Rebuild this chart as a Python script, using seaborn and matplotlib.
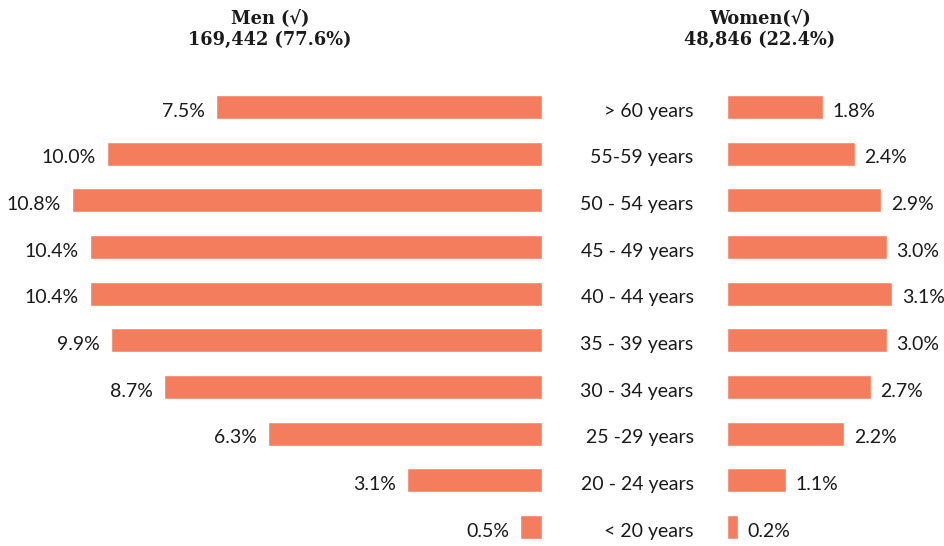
import matplotlib
matplotlib.use("Agg")
import matplotlib.pyplot as plt
import matplotlib.transforms as mtransforms
import seaborn as sns
import pandas as pd

age_groups = ["> 60 years", "55-59 years", "50 - 54 years", "45 - 49 years", "40 - 44 years",
              "35 - 39 years", "30 - 34 years", "25 -29 years", "20 - 24 years", "< 20 years"]
men_pct = [7.5, 10.0, 10.8, 10.4, 10.4, 9.9, 8.7, 6.3, 3.1, 0.5]
women_pct = [1.8, 2.4, 2.9, 3.0, 3.1, 3.0, 2.7, 2.2, 1.1, 0.2]
men_title = "Men (√)"
men_total = "169,442 (77.6%)"
women_title = "Women(√)"
women_total = "48,846 (22.4%)"

bar_color = "#F47D5E"
label_font = "Lato"
title_font = "DejaVu Serif"

sns.set_theme(style="white")
plt.rcParams["font.family"] = [label_font, "DejaVu Sans"]

df = pd.DataFrame({"age": age_groups, "men": men_pct, "women": women_pct})

W, H = 944, 546
fig = plt.figure(figsize=(W / 100, H / 100), dpi=100)
ax_m = fig.add_axes([0, 0, 542 / W, 1])
ax_w = fig.add_axes([727 / W, 0, 1 - 727 / W, 1])

sns.barplot(data=df, x="men", y="age", orient="h", color=bar_color, width=0.52,
            saturation=1, ax=ax_m)
sns.barplot(data=df, x="women", y="age", orient="h", color=bar_color, width=0.52,
            saturation=1, ax=ax_w)

# row i is centred at pixel 107 + 46.67*i from the top
step = 46.67
top_idx = -107 / step
bot_idx = (H - 107) / step
for ax in (ax_m, ax_w):
    ax.set_ylim(bot_idx, top_idx)
    ax.set_axis_off()

ax_m.set_xlim(542 / 43.5, 0)
ax_w.set_xlim(0, (W - 727) / 53.2)

fs = 14
dy = -3  # labels sit slightly below the bar centre
for i, v in enumerate(men_pct):
    ax_m.annotate(f"{v:.1f}%", (v, i), xytext=(-8, dy), textcoords="offset points",
                  ha="right", va="center", fontsize=fs, color="#1a1a1a")
for i, v in enumerate(women_pct):
    ax_w.annotate(f"{v:.1f}%", (v, i), xytext=(7, dy), textcoords="offset points",
                  ha="left", va="center", fontsize=fs, color="#1a1a1a")

for i, lab in enumerate(age_groups):
    ax_w.annotate(lab, (0, i), xytext=(-24, dy), textcoords="offset points",
                  ha="right", va="center", fontsize=fs, color="#1a1a1a",
                  annotation_clip=False)

for cx, t1, t2 in [(270, men_title, men_total), (760, women_title, women_total)]:
    fig.text(cx / W, 1 - 18 / H, t1, ha="center", va="center", fontsize=12.8,
             fontweight="bold", family=title_font, color="#1a1a1a")
    fig.text(cx / W, 1 - 40 / H, t2, ha="center", va="center", fontsize=12.8,
             fontweight="bold", family=title_font, color="#1a1a1a")

fig.savefig("out.png", dpi=100)
